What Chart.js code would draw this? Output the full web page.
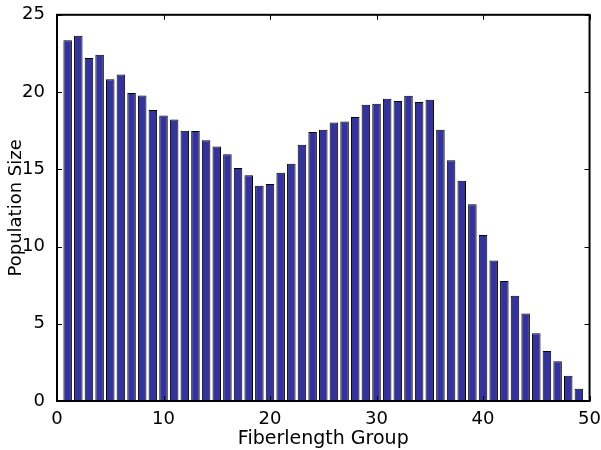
<!DOCTYPE html>
<html>
<head>
<meta charset="utf-8">
<script src="https://cdn.jsdelivr.net/npm/chart.js@4"></script>
<style>
  html, body { margin: 0; padding: 0; background: #fff; }
  #wrap { width: 601px; height: 450px; }
</style>
</head>
<body>
<div id="wrap"><canvas id="barChart" width="601" height="450"></canvas></div>
<script>
// ── DATA ─────────────────────────────────────────
const groups = Array.from({ length: 49 }, (_, i) => i + 1);
const populationSize = [
  23.36, 23.64, 22.21, 22.42, 20.82, 21.14, 19.93, 19.78, 18.84, 18.48,
  18.22, 17.50, 17.48, 16.88, 16.48, 15.97, 15.09, 14.62, 13.94, 14.05,
  14.77, 15.35, 16.58, 17.41, 17.56, 18.03, 18.09, 18.39, 19.18, 19.25,
  19.57, 19.42, 19.76, 19.36, 19.50, 17.56, 15.58, 14.26, 12.74, 10.74,
  9.10, 7.76, 6.82, 5.67, 4.39, 3.24, 2.58, 1.64, 0.79
];
const xTicks = [0, 10, 20, 30, 40, 50];
const yTicks = [0, 5, 10, 15, 20, 25];

const FONT = '"DejaVu Sans", sans-serif';

// ── BOX + INWARD TICKS (matlab style) ────────────
const boxTicks = {
  id: 'boxTicks',
  afterDraw(chart) {
    const { ctx, chartArea: a, scales: { x, y } } = chart;
    const len = 5;
    ctx.save();
    ctx.strokeStyle = '#000';
    ctx.lineWidth = 1;
    ctx.beginPath();
    xTicks.forEach(v => {
      const px = Math.round(x.getPixelForValue(v)) + 0.5;
      ctx.moveTo(px, a.bottom); ctx.lineTo(px, a.bottom - len);
      ctx.moveTo(px, a.top);    ctx.lineTo(px, a.top + len);
    });
    yTicks.forEach(v => {
      const py = Math.round(y.getPixelForValue(v)) + 0.5;
      ctx.moveTo(a.left, py);  ctx.lineTo(a.left + len, py);
      ctx.moveTo(a.right, py); ctx.lineTo(a.right - len, py);
    });
    ctx.stroke();
    ctx.lineWidth = 2;
    ctx.strokeRect(a.left, a.top, a.right - a.left, a.bottom - a.top);
    ctx.restore();
  },
};

// ── CHART ────────────────────────────────────────
new Chart(document.getElementById('barChart').getContext('2d'), {
  type: 'bar',
  data: {
    datasets: [{
      data: groups.map((g, i) => ({ x: g, y: populationSize[i] })),
      backgroundColor: '#333399',
      borderColor: '#000',
      borderWidth: 1,
      barPercentage: 0.8,
      categoryPercentage: 1,
    }],
  },
  options: {
    responsive: false,
    animation: false,
    layout: { padding: { top: 10, right: 11, left: 0, bottom: 0 } },
    plugins: { legend: { display: false }, tooltip: { enabled: false } },
    scales: {
      x: {
        type: 'linear',
        min: 0,
        max: 50,
        offset: false,
        afterFit: s => { s.height = 49; },
        afterBuildTicks: s => { s.ticks = xTicks.map(v => ({ value: v })); },
        grid: { display: false },
        border: { display: false },
        ticks: { color: '#000', font: { family: FONT, size: 18 }, padding: 0, maxRotation: 0 },
        title: {
          display: true,
          text: 'Fiberlength Group',
          color: '#000',
          font: { family: FONT, size: 19 },
          padding: { top: 0, bottom: 0 },
        },
      },
      y: {
        min: 0,
        max: 25,
        afterFit: s => { s.width = 57; },
        afterBuildTicks: s => { s.ticks = yTicks.map(v => ({ value: v })); },
        grid: { display: false },
        border: { display: false },
        ticks: { color: '#000', font: { family: FONT, size: 18 }, padding: 4 },
        title: {
          display: true,
          text: 'Population Size',
          color: '#000',
          font: { family: FONT, size: 18 },
          padding: { top: 6, bottom: 0 },
        },
      },
    },
  },
  plugins: [boxTicks],
});
</script>
</body>
</html>
